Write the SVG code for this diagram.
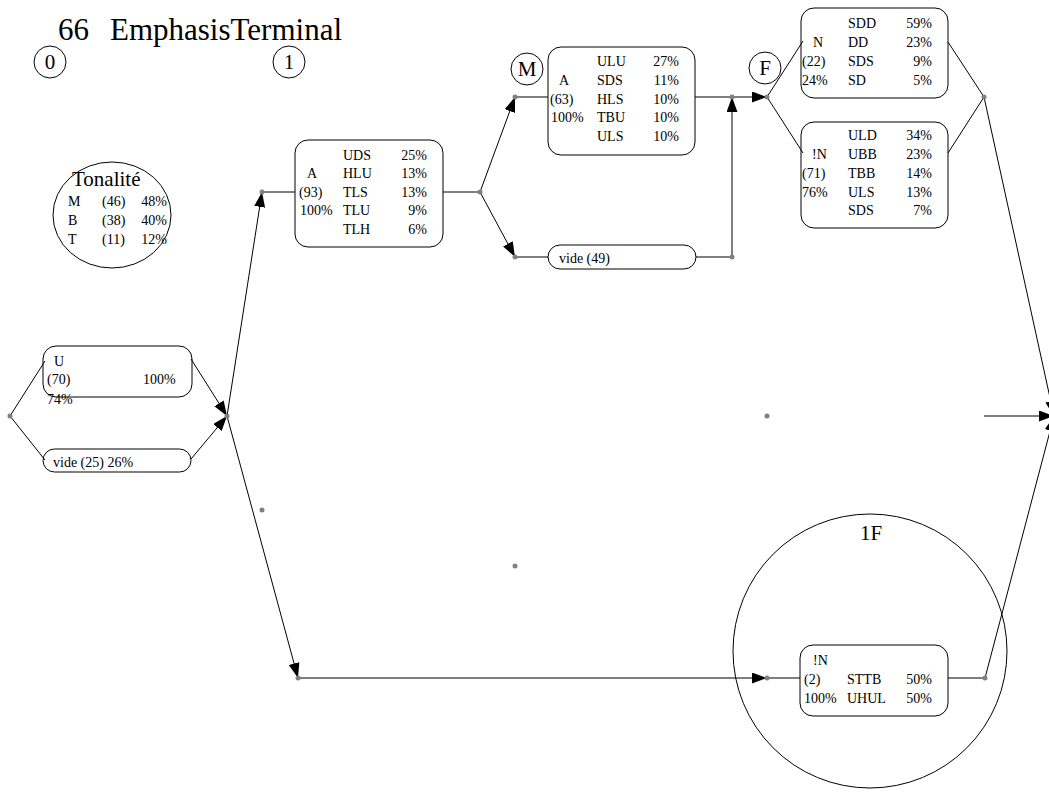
<svg xmlns="http://www.w3.org/2000/svg" width="1049" height="793" viewBox="0 0 1049 793">
<style>
text{font-family:"Liberation Serif","Times New Roman",serif;fill:#000}
.t{font-size:14px}
.e{text-anchor:end}
.lbl{font-size:21px;text-anchor:middle}
.box{fill:none;stroke:#000;stroke-width:1}
.edge{fill:none;stroke:#000;stroke-width:1}
.arr{marker-end:url(#ah)}
.dot{fill:#808080}
</style>
<defs>
<marker id="ah" markerUnits="userSpaceOnUse" markerWidth="15" markerHeight="11" refX="15" refY="5.5" orient="auto">
<path d="M0,0 L15,5.5 L0,11 z" fill="#000"/>
</marker>
</defs>
<rect width="1049" height="793" fill="#fff"/>
<text x="58" y="40" font-size="31">66<tspan x="110">EmphasisTerminal</tspan></text>

<g id="labels">
<circle cx="50" cy="62" r="16" class="box"/><text x="50" y="69" class="lbl">0</text>
<circle cx="289" cy="62" r="16" class="box"/><text x="289" y="69" class="lbl">1</text>
<circle cx="527" cy="69" r="16" class="box"/><text x="527" y="76" class="lbl">M</text>
<circle cx="765" cy="68" r="16" class="box"/><text x="765" y="75" class="lbl">F</text>
</g>

<g id="tonalite">
<ellipse cx="112" cy="215" rx="59" ry="53" class="box"/>
<text x="72" y="186" font-size="21">Tonalité</text>
<text x="68" y="206" class="t">M</text><text x="102" y="206" class="t">(46)</text><text x="167" y="206" class="t e">48%</text>
<text x="68" y="225" class="t">B</text><text x="102" y="225" class="t">(38)</text><text x="167" y="225" class="t e">40%</text>
<text x="68" y="244" class="t">T</text><text x="102" y="244" class="t">(11)</text><text x="167" y="244" class="t e">12%</text>
</g>

<g id="connectors">
<line x1="10" y1="416" x2="45" y2="361" class="edge"/>
<line x1="10" y1="416" x2="45" y2="460" class="edge"/>
<line x1="191" y1="359" x2="227" y2="416" class="edge arr"/>
<line x1="191" y1="459" x2="227" y2="416" class="edge arr"/>
<line x1="227" y1="416" x2="262" y2="192" class="edge arr"/>
<line x1="227" y1="416" x2="298" y2="678" class="edge arr"/>
<line x1="262" y1="192" x2="295" y2="192" class="edge"/>
<line x1="443" y1="192" x2="480" y2="192" class="edge"/>
<line x1="480" y1="192" x2="515" y2="97" class="edge arr"/>
<line x1="480" y1="192" x2="515" y2="257" class="edge arr"/>
<line x1="515" y1="97" x2="548" y2="97" class="edge"/>
<line x1="695" y1="97" x2="732" y2="97" class="edge"/>
<line x1="515" y1="257" x2="548" y2="257" class="edge"/>
<line x1="696" y1="257" x2="732" y2="257" class="edge"/>
<line x1="732" y1="257" x2="732" y2="97" class="edge arr"/>
<line x1="732" y1="97" x2="767" y2="97" class="edge arr"/>
<line x1="767" y1="97" x2="803" y2="41" class="edge"/>
<line x1="767" y1="97" x2="803" y2="153" class="edge"/>
<line x1="948" y1="42" x2="984" y2="97" class="edge"/>
<line x1="948" y1="153" x2="984" y2="97" class="edge"/>
<line x1="984" y1="97" x2="1054" y2="416" class="edge arr"/>
<line x1="984" y1="416" x2="1054" y2="416" class="edge arr"/>
<line x1="298" y1="678" x2="767" y2="678" class="edge arr"/>
<line x1="767" y1="678" x2="800" y2="678" class="edge"/>
<line x1="948" y1="678" x2="985" y2="678" class="edge"/>
<line x1="985" y1="678" x2="1054" y2="416" class="edge arr"/>
<circle cx="10" cy="416" r="2.5" class="dot"/>
<circle cx="227" cy="416" r="2.5" class="dot"/>
<circle cx="262" cy="192" r="2.5" class="dot"/>
<circle cx="298" cy="678" r="2.5" class="dot"/>
<circle cx="480" cy="192" r="2.5" class="dot"/>
<circle cx="515" cy="97" r="2.5" class="dot"/>
<circle cx="515" cy="257" r="2.5" class="dot"/>
<circle cx="732" cy="97" r="2.5" class="dot"/>
<circle cx="732" cy="257" r="2.5" class="dot"/>
<circle cx="767" cy="97" r="2.5" class="dot"/>
<circle cx="984" cy="97" r="2.5" class="dot"/>
<circle cx="767" cy="678" r="2.5" class="dot"/>
<circle cx="985" cy="678" r="2.5" class="dot"/>
<circle cx="767" cy="416" r="2.5" class="dot"/>
<circle cx="262" cy="510" r="2.5" class="dot"/>
<circle cx="515" cy="566" r="2.5" class="dot"/>
</g>

<g id="node-U">
<rect x="43" y="346" width="149" height="51" rx="13" class="box"/>
<text x="54" y="366" class="t">U</text>
<text x="47" y="384" class="t">(70)</text><text x="143" y="384" class="t">100%</text>
<text x="47" y="404" class="t">74%</text>
</g>

<g id="node-vide25">
<rect x="43" y="449" width="148" height="23" rx="11.5" class="box"/>
<text x="53" y="467" class="t">vide (25) 26%</text>
</g>

<g id="node-A1">
<rect x="295" y="140" width="148" height="107" rx="13" class="box"/>
<text x="343" y="160" class="t">UDS</text><text x="427" y="160" class="t e">25%</text>
<text x="307" y="178" class="t">A</text><text x="343" y="178" class="t">HLU</text><text x="427" y="178" class="t e">13%</text>
<text x="299" y="197" class="t">(93)</text><text x="343" y="197" class="t">TLS</text><text x="427" y="197" class="t e">13%</text>
<text x="300" y="215" class="t">100%</text><text x="343" y="215" class="t">TLU</text><text x="427" y="215" class="t e">9%</text>
<text x="343" y="234" class="t">TLH</text><text x="427" y="234" class="t e">6%</text>
</g>

<g id="node-AM">
<rect x="548" y="47" width="147" height="108" rx="13" class="box"/>
<text x="597" y="66" class="t">ULU</text><text x="679" y="66" class="t e">27%</text>
<text x="559" y="85" class="t">A</text><text x="597" y="85" class="t">SDS</text><text x="679" y="85" class="t e">11%</text>
<text x="550" y="104" class="t">(63)</text><text x="597" y="104" class="t">HLS</text><text x="679" y="104" class="t e">10%</text>
<text x="551" y="122" class="t">100%</text><text x="597" y="122" class="t">TBU</text><text x="679" y="122" class="t e">10%</text>
<text x="597" y="141" class="t">ULS</text><text x="679" y="141" class="t e">10%</text>
</g>

<g id="node-vide49">
<rect x="548" y="245" width="148" height="24" rx="12" class="box"/>
<text x="559" y="263" class="t">vide (49)</text>
</g>

<g id="node-N">
<rect x="801" y="8" width="147" height="90" rx="13" class="box"/>
<text x="848" y="28" class="t">SDD</text><text x="932" y="28" class="t e">59%</text>
<text x="813" y="47" class="t">N</text><text x="848" y="47" class="t">DD</text><text x="932" y="47" class="t e">23%</text>
<text x="802" y="66" class="t">(22)</text><text x="848" y="66" class="t">SDS</text><text x="932" y="66" class="t e">9%</text>
<text x="802" y="85" class="t">24%</text><text x="848" y="85" class="t">SD</text><text x="932" y="85" class="t e">5%</text>
</g>

<g id="node-notN">
<rect x="801" y="122" width="147" height="106" rx="13" class="box"/>
<text x="848" y="140" class="t">ULD</text><text x="932" y="140" class="t e">34%</text>
<text x="812" y="159" class="t">!N</text><text x="848" y="159" class="t">UBB</text><text x="932" y="159" class="t e">23%</text>
<text x="802" y="178" class="t">(71)</text><text x="848" y="178" class="t">TBB</text><text x="932" y="178" class="t e">14%</text>
<text x="802" y="197" class="t">76%</text><text x="848" y="197" class="t">ULS</text><text x="932" y="197" class="t e">13%</text>
<text x="848" y="215" class="t">SDS</text><text x="932" y="215" class="t e">7%</text>
</g>

<g id="cluster-1F">
<circle cx="870" cy="651" r="137" class="box"/>
<text x="871" y="540" class="lbl">1F</text>
</g>

<g id="node-notN-1F">
<rect x="800" y="645" width="148" height="71" rx="13" class="box"/>
<text x="813" y="665" class="t">!N</text>
<text x="804" y="684" class="t">(2)</text><text x="847" y="684" class="t">STTB</text><text x="932" y="684" class="t e">50%</text>
<text x="804" y="703" class="t">100%</text><text x="847" y="703" class="t">UHUL</text><text x="932" y="703" class="t e">50%</text>
</g>
</svg>
